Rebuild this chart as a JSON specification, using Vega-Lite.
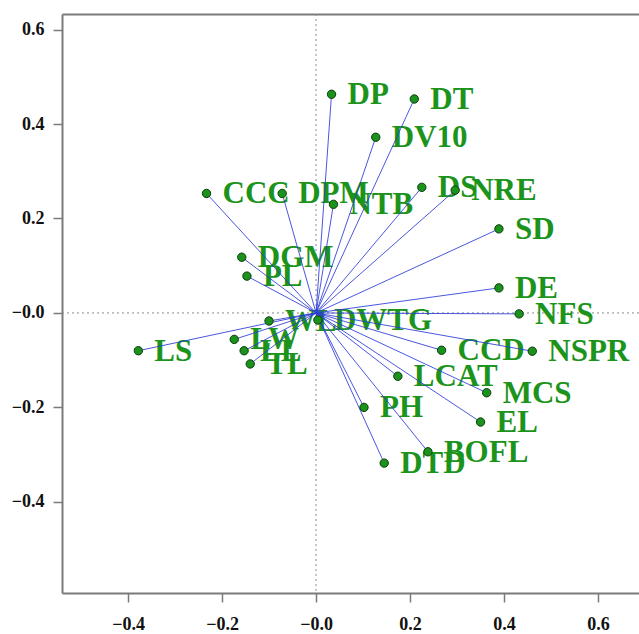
{
  "$schema": "https://vega.github.io/schema/vega-lite/v6.json",
  "width": 577,
  "height": 579,
  "autosize": {"type": "none"},
  "padding": {"left": 62, "top": 14, "right": 0, "bottom": 41},
  "background": "white",
  "config": {
    "view": {"stroke": null},
    "axis": {
      "domainColor": "#7a7a7a",
      "domainWidth": 2,
      "tickColor": "#7a7a7a",
      "tickWidth": 1.5,
      "tickSize": 9,
      "grid": false,
      "labelFont": "Liberation Serif",
      "labelFontWeight": "bold",
      "labelFontSize": 18,
      "labelColor": "#111111"
    }
  },
  "data": {
    "values": [
      {"label": "DP", "x": 0.033, "y": 0.463},
      {"label": "DT", "x": 0.209, "y": 0.453},
      {"label": "DV10", "x": 0.127, "y": 0.372},
      {"label": "CCC", "x": -0.233, "y": 0.253},
      {"label": "DPM", "x": -0.072, "y": 0.253},
      {"label": "NTB", "x": 0.037, "y": 0.230},
      {"label": "DS", "x": 0.225, "y": 0.266},
      {"label": "NRE", "x": 0.296, "y": 0.260},
      {"label": "SD", "x": 0.389, "y": 0.178},
      {"label": "DGM", "x": -0.158, "y": 0.118},
      {"label": "PL", "x": -0.147, "y": 0.078},
      {"label": "DE", "x": 0.389, "y": 0.053},
      {"label": "NFS", "x": 0.432, "y": -0.002},
      {"label": "WL", "x": -0.100, "y": -0.017},
      {"label": "DWTG", "x": 0.004, "y": -0.015},
      {"label": "CCD", "x": 0.267, "y": -0.079},
      {"label": "NSPR", "x": 0.460, "y": -0.081},
      {"label": "LCAT", "x": 0.174, "y": -0.134},
      {"label": "MCS", "x": 0.363, "y": -0.169},
      {"label": "EL", "x": 0.350, "y": -0.231},
      {"label": "BOFL", "x": 0.238, "y": -0.294},
      {"label": "DTD", "x": 0.145, "y": -0.318},
      {"label": "PH", "x": 0.102, "y": -0.200},
      {"label": "LS", "x": -0.378, "y": -0.080},
      {"label": "LW", "x": -0.174, "y": -0.056},
      {"label": "LL", "x": -0.153, "y": -0.080},
      {"label": "TL", "x": -0.140, "y": -0.108}
    ]
  },
  "resolve": {"axis": {"x": "independent", "y": "independent"}},
  "layer": [
    {
      "transform": [{"filter": "datum.label === 'DP'"}],
      "mark": {"type": "rule", "color": "#8a8a8a", "strokeDash": [2, 3], "strokeWidth": 1},
      "encoding": {
        "x": {"datum": 0, "type": "quantitative", "scale": {"domain": [-0.5404, 0.687], "nice": false, "zero": false},
          "axis": {"orient": "top", "labels": false, "ticks": false, "title": null, "domain": true}}
      }
    },
    {
      "transform": [{"filter": "datum.label === 'DP'"}],
      "mark": {"type": "rule", "color": "#8a8a8a", "strokeDash": [2, 3], "strokeWidth": 1},
      "encoding": {
        "y": {"datum": 0, "type": "quantitative", "scale": {"domain": [-0.593, 0.633], "nice": false, "zero": false}, "axis": null}
      }
    },
    {
      "mark": {"type": "text", "align": "left", "baseline": "middle", "dx": 16, "dy": 1, "font": "Liberation Serif", "fontWeight": "bold", "fontSize": 31, "color": "#1c941c"},
      "encoding": {
        "x": {"field": "x", "type": "quantitative", "axis": null},
        "y": {"field": "y", "type": "quantitative", "axis": null},
        "text": {"field": "label", "type": "nominal"}
      }
    },
    {
      "mark": {"type": "rule", "color": "#2a3ad8", "strokeWidth": 1, "opacity": 0.85},
      "encoding": {
        "x": {"field": "x", "type": "quantitative", "axis": null},
        "y": {"field": "y", "type": "quantitative", "axis": null},
        "x2": {"datum": 0},
        "y2": {"datum": 0}
      }
    },
    {
      "mark": {"type": "point", "shape": "circle", "filled": true, "size": 70, "color": "#1b921b", "stroke": "#0b3d0b", "strokeWidth": 1, "opacity": 1},
      "encoding": {
        "x": {"field": "x", "type": "quantitative",
          "axis": {"orient": "bottom", "title": null, "values": [-0.4, -0.2, 0, 0.2, 0.4, 0.6], "labelPadding": 13, "labelBaseline": "top",
            "labelExpr": "datum.value <= 0 ? '\u2212' + format(abs(datum.value), '.1f') : format(datum.value, '.1f')"}},
        "y": {"field": "y", "type": "quantitative",
          "axis": {"orient": "left", "title": null, "values": [-0.4, -0.2, 0, 0.2, 0.4, 0.6], "labelPadding": 9,
            "labelExpr": "datum.value <= 0 ? '\u2212' + format(abs(datum.value), '.1f') : format(datum.value, '.1f')"}}
      }
    }
  ]
}
